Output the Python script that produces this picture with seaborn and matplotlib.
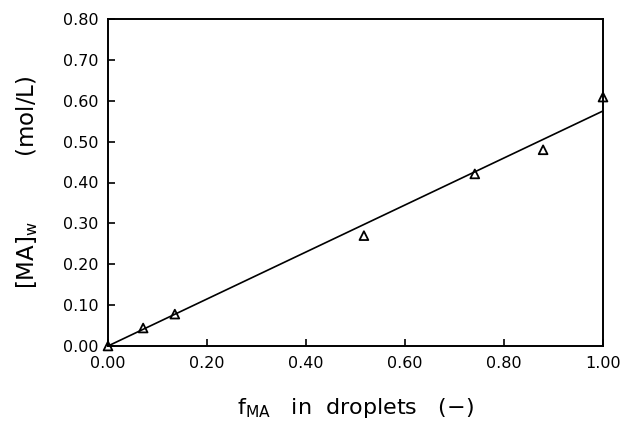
import matplotlib
matplotlib.use("Agg")
import matplotlib.pyplot as plt
import seaborn as sns
import pandas as pd

# data
f_ma = [0.0, 0.071, 0.135, 0.517, 0.741, 0.879, 1.0]
ma_w = [0.0, 0.044, 0.078, 0.270, 0.421, 0.480, 0.609]
fit_x = [0.0, 1.0]
fit_y = [0.0, 0.575]
xticks = [0.0, 0.2, 0.4, 0.6, 0.8, 1.0]
yticks = [0.0, 0.1, 0.2, 0.3, 0.4, 0.5, 0.6, 0.7, 0.8]

sns.set_theme(style="white")
plt.rcParams['font.family'] = ['DejaVu Sans']
plt.rcParams['text.color'] = 'black'
plt.rcParams['axes.labelcolor'] = 'black'
plt.rcParams['xtick.color'] = 'black'
plt.rcParams['ytick.color'] = 'black'

fig = plt.figure(figsize=(6.23, 4.30), dpi=100)
ax = fig.add_axes([108/623, 1-346/430, (603-108)/623, (346-19)/430])

pts = pd.DataFrame({"x": f_ma, "y": ma_w})
fit = pd.DataFrame({"x": fit_x, "y": fit_y})
sns.lineplot(data=fit, x="x", y="y", ax=ax, color="black", linewidth=1.2)
sns.scatterplot(data=pts, x="x", y="y", ax=ax, marker="^", s=40,
                facecolor="none", edgecolor="black", linewidth=1.3, zorder=5, clip_on=False)

ax.set_xlim(0, 1)
ax.set_ylim(0, 0.8)
ax.set_xticks(xticks)
ax.set_yticks(yticks)
ax.set_xticklabels([f"{v:.2f}" for v in xticks], fontsize=11.5)
ax.set_yticklabels([f"{v:.2f}" for v in yticks], fontsize=11.5)
ax.tick_params(axis="both", direction="in", length=5, width=1.2, color="black",
               labelcolor="black", bottom=True, left=True, top=False, right=False, pad=7)
for s in ax.spines.values():
    s.set_color("black")
    s.set_linewidth(1.4)

ax.set_xlabel(r"f$_{\mathregular{MA}}$   in  droplets   (−)", fontsize=16, labelpad=18)
ax.set_ylabel(r"[MA]$_{\mathregular{w}}$         (mol/L)", fontsize=16.5, labelpad=16)

fig.savefig("out.png", dpi=100)
